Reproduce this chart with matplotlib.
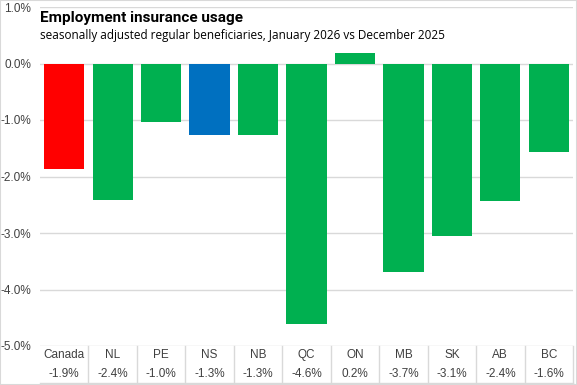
import matplotlib
matplotlib.use("Agg")
import matplotlib.pyplot as plt
import matplotlib.transforms as mtransforms
from matplotlib.patches import Rectangle

# Data
regions = ["Canada", "NL", "PE", "NS", "NB", "QC", "ON", "MB", "SK", "AB", "BC"]
changes = [-1.87, -2.42, -1.04, -1.27, -1.27, -4.61, 0.19, -3.69, -3.06, -2.44, -1.57]
labels = ["-1.9%", "-2.4%", "-1.0%", "-1.3%", "-1.3%", "-4.6%", "0.2%", "-3.7%", "-3.1%", "-2.4%", "-1.6%"]
yticks = [1.0, 0.0, -1.0, -2.0, -3.0, -4.0, -5.0]

colors = []
for r in regions:
    if r == "Canada":
        colors.append("#FF0000")
    elif r == "NS":
        colors.append("#0070C0")
    else:
        colors.append("#00B050")

W, H = 577, 385
fig = plt.figure(figsize=(W / 100, H / 100), dpi=100)
fig.patches.append(Rectangle((0, 0), 1, 1, transform=fig.transFigure,
                             fill=False, edgecolor="#d9d9d9", lw=1.5))

ax = fig.add_axes([40 / W, 1 - 346 / H, 533 / W, 339 / H])
x = list(range(len(regions)))
ax.bar(x, changes, width=0.83, color=colors, zorder=3)

ax.set_xlim(-0.5, len(regions) - 0.5)
ax.set_ylim(-5.0, 1.0)
ax.set_yticks(yticks)
ax.set_yticklabels([f"{t:.1f}%" for t in yticks], fontfamily="Liberation Sans",
                   fontsize=8.5, color="#404040")
ax.tick_params(axis="y", length=0, pad=6.5)
ax.set_xticks([])
ax.grid(axis="y", color="#d9d9d9", lw=1, zorder=0)
for s in ax.spines.values():
    s.set_visible(False)

# table under the plot
trans = mtransforms.blended_transform_factory(ax.transData, ax.transAxes)
ax_h = 339
row1 = -9 / ax_h
row2 = -28 / ax_h
bottom = -37 / ax_h
for i, (r, lab) in enumerate(zip(regions, labels)):
    ax.text(i, row1, r, transform=trans, ha="center", va="center",
            fontsize=8.5, fontfamily="Liberation Sans", color="#404040")
    ax.text(i, row2, lab, transform=trans, ha="center", va="center",
            fontsize=8.5, fontfamily="Liberation Sans", color="#404040")
for i in range(len(regions)):
    ax.plot([i + 0.5, i + 0.5], [0, bottom], transform=trans, color="#d9d9d9",
            lw=1, clip_on=False)
ax.plot([-0.5, len(regions) - 0.5], [bottom, bottom], transform=trans,
        color="#d9d9d9", lw=1, clip_on=False)

fig.text(40 / W, 1 - 18 / H, "Employment insurance usage", fontsize=11,
         fontweight="bold", fontfamily="Roboto", va="center", ha="left")
fig.text(40 / W, 1 - 36 / H,
         "seasonally adjusted regular beneficiaries, January 2026 vs December 2025",
         fontsize=8.5, fontfamily="Open Sans", va="center", ha="left")

fig.savefig("out.png", dpi=100)
